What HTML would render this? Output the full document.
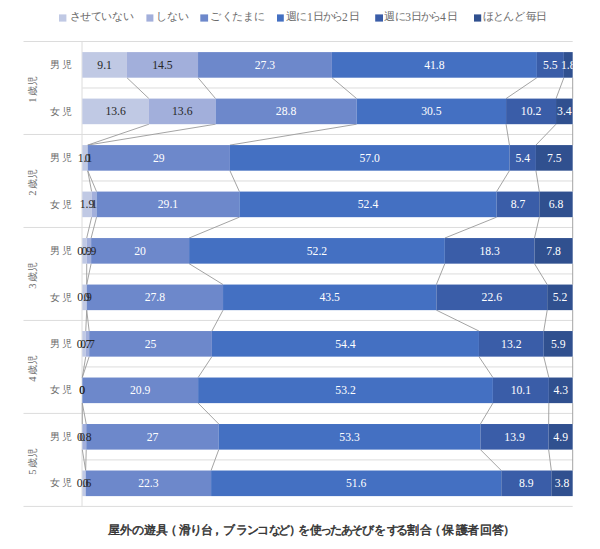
<!DOCTYPE html>
<html lang="ja"><head><meta charset="utf-8">
<style>
html,body{margin:0;padding:0;background:#fff;width:600px;height:549px;overflow:hidden}
svg{display:block;font-family:"Liberation Serif",serif}
.lab text{font-size:13px;text-anchor:middle}
.cat{font-size:10px;fill:#6b6b6b}
.leg{font-size:11px;fill:#6b6b6b}
.title{font-family:"Liberation Sans",sans-serif;font-size:12px;font-weight:normal;fill:#333333;stroke:#333333;stroke-width:0.5px}
</style></head><body>
<svg width="600" height="549" viewBox="0 0 600 549">
<line x1="23.5" y1="41.5" x2="572.7" y2="41.5" stroke="#dcdcdc" stroke-width="1"/>
<line x1="82.3" y1="87.99" x2="572.7" y2="87.99" stroke="#dcdcdc" stroke-width="1"/>
<line x1="23.5" y1="134.48" x2="572.7" y2="134.48" stroke="#dcdcdc" stroke-width="1"/>
<line x1="82.3" y1="180.97" x2="572.7" y2="180.97" stroke="#dcdcdc" stroke-width="1"/>
<line x1="23.5" y1="227.46" x2="572.7" y2="227.46" stroke="#dcdcdc" stroke-width="1"/>
<line x1="82.3" y1="273.95" x2="572.7" y2="273.95" stroke="#dcdcdc" stroke-width="1"/>
<line x1="23.5" y1="320.44" x2="572.7" y2="320.44" stroke="#dcdcdc" stroke-width="1"/>
<line x1="82.3" y1="366.93" x2="572.7" y2="366.93" stroke="#dcdcdc" stroke-width="1"/>
<line x1="23.5" y1="413.42" x2="572.7" y2="413.42" stroke="#dcdcdc" stroke-width="1"/>
<line x1="82.3" y1="459.91" x2="572.7" y2="459.91" stroke="#dcdcdc" stroke-width="1"/>
<line x1="23.5" y1="506.4" x2="572.7" y2="506.4" stroke="#dcdcdc" stroke-width="1"/>
<line x1="82" y1="41.5" x2="82" y2="506.4" stroke="#dcdcdc" stroke-width="1"/>
<line x1="126.93" y1="77.7" x2="148.93" y2="98.59" stroke="#9a9a9a" stroke-width="0.9"/>
<line x1="198.03" y1="77.7" x2="215.56" y2="98.59" stroke="#9a9a9a" stroke-width="0.9"/>
<line x1="331.91" y1="77.7" x2="356.65" y2="98.59" stroke="#9a9a9a" stroke-width="0.9"/>
<line x1="536.9" y1="77.7" x2="506.07" y2="98.59" stroke="#9a9a9a" stroke-width="0.9"/>
<line x1="563.87" y1="77.7" x2="556.04" y2="98.59" stroke="#9a9a9a" stroke-width="0.9"/>
<line x1="572.7" y1="77.7" x2="572.7" y2="98.59" stroke="#9a9a9a" stroke-width="0.9"/>
<line x1="148.93" y1="124.19" x2="87.69" y2="145.08" stroke="#9a9a9a" stroke-width="0.9"/>
<line x1="215.56" y1="124.19" x2="87.69" y2="145.08" stroke="#9a9a9a" stroke-width="0.9"/>
<line x1="356.65" y1="124.19" x2="229.91" y2="145.08" stroke="#9a9a9a" stroke-width="0.9"/>
<line x1="506.07" y1="124.19" x2="509.44" y2="145.08" stroke="#9a9a9a" stroke-width="0.9"/>
<line x1="556.04" y1="124.19" x2="535.92" y2="145.08" stroke="#9a9a9a" stroke-width="0.9"/>
<line x1="572.7" y1="124.19" x2="572.7" y2="145.08" stroke="#9a9a9a" stroke-width="0.9"/>
<line x1="87.69" y1="170.68" x2="91.63" y2="191.57" stroke="#9a9a9a" stroke-width="0.9"/>
<line x1="87.69" y1="170.68" x2="96.54" y2="191.57" stroke="#9a9a9a" stroke-width="0.9"/>
<line x1="229.91" y1="170.68" x2="239.39" y2="191.57" stroke="#9a9a9a" stroke-width="0.9"/>
<line x1="509.44" y1="170.68" x2="496.61" y2="191.57" stroke="#9a9a9a" stroke-width="0.9"/>
<line x1="535.92" y1="170.68" x2="539.32" y2="191.57" stroke="#9a9a9a" stroke-width="0.9"/>
<line x1="572.7" y1="170.68" x2="572.7" y2="191.57" stroke="#9a9a9a" stroke-width="0.9"/>
<line x1="91.63" y1="217.17" x2="86.71" y2="238.06" stroke="#9a9a9a" stroke-width="0.9"/>
<line x1="96.54" y1="217.17" x2="91.12" y2="238.06" stroke="#9a9a9a" stroke-width="0.9"/>
<line x1="239.39" y1="217.17" x2="189.1" y2="238.06" stroke="#9a9a9a" stroke-width="0.9"/>
<line x1="496.61" y1="217.17" x2="444.83" y2="238.06" stroke="#9a9a9a" stroke-width="0.9"/>
<line x1="539.32" y1="217.17" x2="534.49" y2="238.06" stroke="#9a9a9a" stroke-width="0.9"/>
<line x1="572.7" y1="217.17" x2="572.7" y2="238.06" stroke="#9a9a9a" stroke-width="0.9"/>
<line x1="86.71" y1="263.66" x2="86.71" y2="284.55" stroke="#9a9a9a" stroke-width="0.9"/>
<line x1="91.12" y1="263.66" x2="86.71" y2="284.55" stroke="#9a9a9a" stroke-width="0.9"/>
<line x1="189.1" y1="263.66" x2="223.04" y2="284.55" stroke="#9a9a9a" stroke-width="0.9"/>
<line x1="444.83" y1="263.66" x2="436.37" y2="284.55" stroke="#9a9a9a" stroke-width="0.9"/>
<line x1="534.49" y1="263.66" x2="547.2" y2="284.55" stroke="#9a9a9a" stroke-width="0.9"/>
<line x1="572.7" y1="263.66" x2="572.7" y2="284.55" stroke="#9a9a9a" stroke-width="0.9"/>
<line x1="86.71" y1="310.15" x2="85.74" y2="331.04" stroke="#9a9a9a" stroke-width="0.9"/>
<line x1="86.71" y1="310.15" x2="89.17" y2="331.04" stroke="#9a9a9a" stroke-width="0.9"/>
<line x1="223.04" y1="310.15" x2="211.9" y2="331.04" stroke="#9a9a9a" stroke-width="0.9"/>
<line x1="436.37" y1="310.15" x2="478.94" y2="331.04" stroke="#9a9a9a" stroke-width="0.9"/>
<line x1="547.2" y1="310.15" x2="543.74" y2="331.04" stroke="#9a9a9a" stroke-width="0.9"/>
<line x1="572.7" y1="310.15" x2="572.7" y2="331.04" stroke="#9a9a9a" stroke-width="0.9"/>
<line x1="85.74" y1="356.64" x2="82.3" y2="377.53" stroke="#9a9a9a" stroke-width="0.9"/>
<line x1="89.17" y1="356.64" x2="82.3" y2="377.53" stroke="#9a9a9a" stroke-width="0.9"/>
<line x1="211.9" y1="356.64" x2="198.11" y2="377.53" stroke="#9a9a9a" stroke-width="0.9"/>
<line x1="478.94" y1="356.64" x2="492.91" y2="377.53" stroke="#9a9a9a" stroke-width="0.9"/>
<line x1="543.74" y1="356.64" x2="548.87" y2="377.53" stroke="#9a9a9a" stroke-width="0.9"/>
<line x1="572.7" y1="356.64" x2="572.7" y2="377.53" stroke="#9a9a9a" stroke-width="0.9"/>
<line x1="82.3" y1="403.13" x2="82.3" y2="424.02" stroke="#9a9a9a" stroke-width="0.9"/>
<line x1="82.3" y1="403.13" x2="86.23" y2="424.02" stroke="#9a9a9a" stroke-width="0.9"/>
<line x1="198.11" y1="403.13" x2="218.77" y2="424.02" stroke="#9a9a9a" stroke-width="0.9"/>
<line x1="492.91" y1="403.13" x2="480.41" y2="424.02" stroke="#9a9a9a" stroke-width="0.9"/>
<line x1="548.87" y1="403.13" x2="548.65" y2="424.02" stroke="#9a9a9a" stroke-width="0.9"/>
<line x1="572.7" y1="403.13" x2="572.7" y2="424.02" stroke="#9a9a9a" stroke-width="0.9"/>
<line x1="82.3" y1="449.62" x2="85.67" y2="470.51" stroke="#9a9a9a" stroke-width="0.9"/>
<line x1="86.23" y1="449.62" x2="85.67" y2="470.51" stroke="#9a9a9a" stroke-width="0.9"/>
<line x1="218.77" y1="449.62" x2="211.09" y2="470.51" stroke="#9a9a9a" stroke-width="0.9"/>
<line x1="480.41" y1="449.62" x2="501.28" y2="470.51" stroke="#9a9a9a" stroke-width="0.9"/>
<line x1="548.65" y1="449.62" x2="551.33" y2="470.51" stroke="#9a9a9a" stroke-width="0.9"/>
<line x1="572.7" y1="449.62" x2="572.7" y2="470.51" stroke="#9a9a9a" stroke-width="0.9"/>
<rect x="82.3" y="52.1" width="44.63" height="25.6" fill="#c0c9e4"/>
<rect x="126.93" y="52.1" width="71.11" height="25.6" fill="#a2afdb"/>
<rect x="198.03" y="52.1" width="133.88" height="25.6" fill="#6d88cb"/>
<rect x="331.91" y="52.1" width="204.99" height="25.6" fill="#4470c2"/>
<rect x="536.9" y="52.1" width="26.97" height="25.6" fill="#3a5da8"/>
<rect x="563.87" y="52.1" width="8.83" height="25.6" fill="#30508f"/>
<rect x="82.3" y="98.59" width="66.63" height="25.6" fill="#c0c9e4"/>
<rect x="148.93" y="98.59" width="66.63" height="25.6" fill="#a2afdb"/>
<rect x="215.56" y="98.59" width="141.09" height="25.6" fill="#6d88cb"/>
<rect x="356.65" y="98.59" width="149.42" height="25.6" fill="#4470c2"/>
<rect x="506.07" y="98.59" width="49.97" height="25.6" fill="#3a5da8"/>
<rect x="556.04" y="98.59" width="16.66" height="25.6" fill="#30508f"/>
<rect x="82.3" y="145.08" width="5.39" height="25.6" fill="#c0c9e4"/>
<rect x="87.69" y="145.08" width="142.22" height="25.6" fill="#6d88cb"/>
<rect x="229.91" y="145.08" width="279.53" height="25.6" fill="#4470c2"/>
<rect x="509.44" y="145.08" width="26.48" height="25.6" fill="#3a5da8"/>
<rect x="535.92" y="145.08" width="36.78" height="25.6" fill="#30508f"/>
<rect x="82.3" y="191.57" width="9.33" height="25.6" fill="#c0c9e4"/>
<rect x="91.63" y="191.57" width="4.91" height="25.6" fill="#a2afdb"/>
<rect x="96.54" y="191.57" width="142.85" height="25.6" fill="#6d88cb"/>
<rect x="239.39" y="191.57" width="257.23" height="25.6" fill="#4470c2"/>
<rect x="496.61" y="191.57" width="42.71" height="25.6" fill="#3a5da8"/>
<rect x="539.32" y="191.57" width="33.38" height="25.6" fill="#30508f"/>
<rect x="82.3" y="238.06" width="4.41" height="25.6" fill="#c0c9e4"/>
<rect x="86.71" y="238.06" width="4.41" height="25.6" fill="#a2afdb"/>
<rect x="91.12" y="238.06" width="97.98" height="25.6" fill="#6d88cb"/>
<rect x="189.1" y="238.06" width="255.73" height="25.6" fill="#4470c2"/>
<rect x="444.83" y="238.06" width="89.65" height="25.6" fill="#3a5da8"/>
<rect x="534.49" y="238.06" width="38.21" height="25.6" fill="#30508f"/>
<rect x="82.3" y="284.55" width="4.41" height="25.6" fill="#c0c9e4"/>
<rect x="86.71" y="284.55" width="136.33" height="25.6" fill="#6d88cb"/>
<rect x="223.04" y="284.55" width="213.32" height="25.6" fill="#4470c2"/>
<rect x="436.37" y="284.55" width="110.83" height="25.6" fill="#3a5da8"/>
<rect x="547.2" y="284.55" width="25.5" height="25.6" fill="#30508f"/>
<rect x="82.3" y="331.04" width="3.44" height="25.6" fill="#c0c9e4"/>
<rect x="85.74" y="331.04" width="3.44" height="25.6" fill="#a2afdb"/>
<rect x="89.17" y="331.04" width="122.72" height="25.6" fill="#6d88cb"/>
<rect x="211.9" y="331.04" width="267.04" height="25.6" fill="#4470c2"/>
<rect x="478.94" y="331.04" width="64.8" height="25.6" fill="#3a5da8"/>
<rect x="543.74" y="331.04" width="28.96" height="25.6" fill="#30508f"/>
<rect x="82.3" y="377.53" width="115.81" height="25.6" fill="#6d88cb"/>
<rect x="198.11" y="377.53" width="294.79" height="25.6" fill="#4470c2"/>
<rect x="492.91" y="377.53" width="55.97" height="25.6" fill="#3a5da8"/>
<rect x="548.87" y="377.53" width="23.83" height="25.6" fill="#30508f"/>
<rect x="82.3" y="424.02" width="3.93" height="25.6" fill="#a2afdb"/>
<rect x="86.23" y="424.02" width="132.54" height="25.6" fill="#6d88cb"/>
<rect x="218.77" y="424.02" width="261.64" height="25.6" fill="#4470c2"/>
<rect x="480.41" y="424.02" width="68.23" height="25.6" fill="#3a5da8"/>
<rect x="548.65" y="424.02" width="24.05" height="25.6" fill="#30508f"/>
<rect x="82.3" y="470.51" width="3.37" height="25.6" fill="#c0c9e4"/>
<rect x="85.67" y="470.51" width="125.41" height="25.6" fill="#6d88cb"/>
<rect x="211.09" y="470.51" width="290.19" height="25.6" fill="#4470c2"/>
<rect x="501.28" y="470.51" width="50.05" height="25.6" fill="#3a5da8"/>
<rect x="551.33" y="470.51" width="21.37" height="25.6" fill="#30508f"/>
<clipPath id="pc"><rect x="0" y="0" width="572.7" height="549"/></clipPath>
<g class="lab" clip-path="url(#pc)">
<text transform="translate(104.61,68.9) scale(0.9,1)" fill="#262626">9.1</text>
<text transform="translate(162.48,68.9) scale(0.9,1)" fill="#262626">14.5</text>
<text transform="translate(264.97,68.9) scale(0.9,1)" fill="#ffffff">27.3</text>
<text transform="translate(434.41,68.9) scale(0.9,1)" fill="#ffffff">41.8</text>
<text transform="translate(550.39,68.9) scale(0.9,1)" fill="#ffffff">5.5</text>
<text transform="translate(568.29,68.9) scale(0.9,1)" fill="#ffffff">1.8</text>
<text transform="translate(115.61,115.39) scale(0.9,1)" fill="#262626">13.6</text>
<text transform="translate(182.24,115.39) scale(0.9,1)" fill="#262626">13.6</text>
<text transform="translate(286.1,115.39) scale(0.9,1)" fill="#ffffff">28.8</text>
<text transform="translate(431.36,115.39) scale(0.9,1)" fill="#ffffff">30.5</text>
<text transform="translate(531.06,115.39) scale(0.9,1)" fill="#ffffff">10.2</text>
<text transform="translate(564.37,115.39) scale(0.9,1)" fill="#ffffff">3.4</text>
<text transform="translate(85,161.88) scale(0.9,1)" fill="#262626">1.1</text>
<text transform="translate(87.69,161.88) scale(0.9,1)" fill="#262626">0</text>
<text transform="translate(158.8,161.88) scale(0.9,1)" fill="#ffffff">29</text>
<text transform="translate(369.67,161.88) scale(0.9,1)" fill="#ffffff">57.0</text>
<text transform="translate(522.68,161.88) scale(0.9,1)" fill="#ffffff">5.4</text>
<text transform="translate(554.31,161.88) scale(0.9,1)" fill="#ffffff">7.5</text>
<text transform="translate(86.96,208.37) scale(0.9,1)" fill="#262626">1.9</text>
<text transform="translate(94.08,208.37) scale(0.9,1)" fill="#262626">1</text>
<text transform="translate(167.96,208.37) scale(0.9,1)" fill="#ffffff">29.1</text>
<text transform="translate(368,208.37) scale(0.9,1)" fill="#ffffff">52.4</text>
<text transform="translate(517.97,208.37) scale(0.9,1)" fill="#ffffff">8.7</text>
<text transform="translate(556.01,208.37) scale(0.9,1)" fill="#ffffff">6.8</text>
<text transform="translate(84.5,254.86) scale(0.9,1)" fill="#262626">0.9</text>
<text transform="translate(88.91,254.86) scale(0.9,1)" fill="#262626">0.9</text>
<text transform="translate(140.11,254.86) scale(0.9,1)" fill="#ffffff">20</text>
<text transform="translate(316.97,254.86) scale(0.9,1)" fill="#ffffff">52.2</text>
<text transform="translate(489.66,254.86) scale(0.9,1)" fill="#ffffff">18.3</text>
<text transform="translate(553.59,254.86) scale(0.9,1)" fill="#ffffff">7.8</text>
<text transform="translate(84.51,301.35) scale(0.9,1)" fill="#262626">0.9</text>
<text transform="translate(86.71,301.35) scale(0.9,1)" fill="#262626">0</text>
<text transform="translate(154.88,301.35) scale(0.9,1)" fill="#ffffff">27.8</text>
<text transform="translate(329.71,301.35) scale(0.9,1)" fill="#ffffff">43.5</text>
<text transform="translate(491.78,301.35) scale(0.9,1)" fill="#ffffff">22.6</text>
<text transform="translate(559.95,301.35) scale(0.9,1)" fill="#ffffff">5.2</text>
<text transform="translate(84.02,347.84) scale(0.9,1)" fill="#262626">0.7</text>
<text transform="translate(87.45,347.84) scale(0.9,1)" fill="#262626">0.7</text>
<text transform="translate(150.53,347.84) scale(0.9,1)" fill="#ffffff">25</text>
<text transform="translate(345.42,347.84) scale(0.9,1)" fill="#ffffff">54.4</text>
<text transform="translate(511.34,347.84) scale(0.9,1)" fill="#ffffff">13.2</text>
<text transform="translate(558.22,347.84) scale(0.9,1)" fill="#ffffff">5.9</text>
<text transform="translate(82.3,394.33) scale(0.9,1)" fill="#262626">0</text>
<text transform="translate(82.3,394.33) scale(0.9,1)" fill="#262626">0</text>
<text transform="translate(140.21,394.33) scale(0.9,1)" fill="#ffffff">20.9</text>
<text transform="translate(345.51,394.33) scale(0.9,1)" fill="#ffffff">53.2</text>
<text transform="translate(520.89,394.33) scale(0.9,1)" fill="#ffffff">10.1</text>
<text transform="translate(560.79,394.33) scale(0.9,1)" fill="#ffffff">4.3</text>
<text transform="translate(82.3,440.82) scale(0.9,1)" fill="#262626">0</text>
<text transform="translate(84.26,440.82) scale(0.9,1)" fill="#262626">0.8</text>
<text transform="translate(152.5,440.82) scale(0.9,1)" fill="#ffffff">27</text>
<text transform="translate(349.59,440.82) scale(0.9,1)" fill="#ffffff">53.3</text>
<text transform="translate(514.53,440.82) scale(0.9,1)" fill="#ffffff">13.9</text>
<text transform="translate(560.67,440.82) scale(0.9,1)" fill="#ffffff">4.9</text>
<text transform="translate(83.99,487.31) scale(0.9,1)" fill="#262626">0.6</text>
<text transform="translate(85.67,487.31) scale(0.9,1)" fill="#262626">0</text>
<text transform="translate(148.38,487.31) scale(0.9,1)" fill="#ffffff">22.3</text>
<text transform="translate(356.18,487.31) scale(0.9,1)" fill="#ffffff">51.6</text>
<text transform="translate(526.3,487.31) scale(0.9,1)" fill="#ffffff">8.9</text>
<text transform="translate(562.01,487.31) scale(0.9,1)" fill="#ffffff">3.8</text>
</g>
<text x="50.3" y="68.05" class="cat" textLength="21.5" lengthAdjust="spacing">男児</text>
<text x="50.3" y="114.54" class="cat" textLength="21.5" lengthAdjust="spacing">女児</text>
<text x="50.3" y="161.03" class="cat" textLength="21.5" lengthAdjust="spacing">男児</text>
<text x="50.3" y="207.52" class="cat" textLength="21.5" lengthAdjust="spacing">女児</text>
<text x="50.3" y="254.01" class="cat" textLength="21.5" lengthAdjust="spacing">男児</text>
<text x="50.3" y="300.5" class="cat" textLength="21.5" lengthAdjust="spacing">女児</text>
<text x="50.3" y="346.99" class="cat" textLength="21.5" lengthAdjust="spacing">男児</text>
<text x="50.3" y="393.48" class="cat" textLength="21.5" lengthAdjust="spacing">女児</text>
<text x="50.3" y="439.97" class="cat" textLength="21.5" lengthAdjust="spacing">男児</text>
<text x="50.3" y="486.46" class="cat" textLength="21.5" lengthAdjust="spacing">女児</text>
<g transform="translate(35.8,88.79) rotate(-90)" class="cat"><text x="-14" y="0" style="font-family:'Liberation Serif',serif;font-size:10.5px">1</text><text x="-7.5" y="0">歳</text><text x="2.7" y="0">児</text></g>
<g transform="translate(35.8,181.77) rotate(-90)" class="cat"><text x="-14" y="0" style="font-family:'Liberation Serif',serif;font-size:10.5px">2</text><text x="-7.5" y="0">歳</text><text x="2.7" y="0">児</text></g>
<g transform="translate(35.8,274.75) rotate(-90)" class="cat"><text x="-14" y="0" style="font-family:'Liberation Serif',serif;font-size:10.5px">3</text><text x="-7.5" y="0">歳</text><text x="2.7" y="0">児</text></g>
<g transform="translate(35.8,367.73) rotate(-90)" class="cat"><text x="-14" y="0" style="font-family:'Liberation Serif',serif;font-size:10.5px">4</text><text x="-7.5" y="0">歳</text><text x="2.7" y="0">児</text></g>
<g transform="translate(35.8,460.71) rotate(-90)" class="cat"><text x="-14" y="0" style="font-family:'Liberation Serif',serif;font-size:10.5px">5</text><text x="-7.5" y="0">歳</text><text x="2.7" y="0">児</text></g>
<rect x="59" y="14.4" width="7.4" height="7.2" fill="#c0c9e4"/>
<rect x="146.4" y="14.4" width="7" height="7.2" fill="#a2afdb"/>
<rect x="200.3" y="14.4" width="7.8" height="7.2" fill="#6d88cb"/>
<rect x="277" y="14.4" width="6.8" height="7.2" fill="#4470c2"/>
<rect x="375.2" y="14.4" width="7.8" height="7.2" fill="#3a5da8"/>
<rect x="474" y="14.4" width="7.2" height="7.2" fill="#30508f"/>
<text x="69.65" y="20.2" class="leg">さ</text>
<text x="80.35" y="20.2" class="leg">せ</text>
<text x="90.55" y="20.2" class="leg">て</text>
<text x="101.3" y="20.2" class="leg">い</text>
<text x="111.85" y="20.2" class="leg">な</text>
<text x="123.15" y="20.2" class="leg">い</text>
<text x="155.5" y="20.2" class="leg">し</text>
<text x="166.7" y="20.2" class="leg">な</text>
<text x="177.9" y="20.2" class="leg">い</text>
<text x="209.65" y="20.2" class="leg">ご</text>
<text x="221.8" y="20.2" class="leg">く</text>
<text x="232" y="20.2" class="leg">た</text>
<text x="242.75" y="20.2" class="leg">ま</text>
<text x="253.5" y="20.2" class="leg">に</text>
<text x="286.3" y="20.2" class="leg">週</text>
<text x="296.45" y="20.2" class="leg">に</text>
<text x="307.1" y="20.6" class="leg" style="font-family:'Liberation Serif',serif;font-size:11.5px">1</text>
<text x="312.55" y="20.2" class="leg">日</text>
<text x="322.7" y="20.2" class="leg">か</text>
<text x="332.15" y="20.2" class="leg">ら</text>
<text x="342.1" y="20.6" class="leg" style="font-family:'Liberation Serif',serif;font-size:11.5px">2</text>
<text x="348.6" y="20.2" class="leg">日</text>
<text x="384.3" y="20.2" class="leg">週</text>
<text x="394.8" y="20.2" class="leg">に</text>
<text x="405.35" y="20.6" class="leg" style="font-family:'Liberation Serif',serif;font-size:11.5px">3</text>
<text x="410.9" y="20.2" class="leg">日</text>
<text x="420.7" y="20.2" class="leg">か</text>
<text x="430.15" y="20.2" class="leg">ら</text>
<text x="440.1" y="20.6" class="leg" style="font-family:'Liberation Serif',serif;font-size:11.5px">4</text>
<text x="446.6" y="20.2" class="leg">日</text>
<text x="482.85" y="20.2" class="leg">ほ</text>
<text x="492.75" y="20.2" class="leg">と</text>
<text x="503.35" y="20.2" class="leg">ん</text>
<text x="514.45" y="20.2" class="leg">ど</text>
<text x="526.05" y="20.2" class="leg">毎</text>
<text x="535.95" y="20.2" class="leg">日</text>
<text x="108.0 120.0 132.1 143.8 156.3 165.1 178.8 190.1 200.6 210.8 223.1 235.6 247.3 257.3 269.1 278.0 288.8 298.0 309.8 320.3 329.6 340.6 351.3 362.3 373.8 386.5 396.3 407.3 419.8 428.6 442.3 455.6 467.3 479.6 491.5 502.8" y="534" class="title">屋外の遊具（滑り台，ブランコなど）を使ったあそびをする割合（保護者回答）</text>
</svg>
</body></html>
